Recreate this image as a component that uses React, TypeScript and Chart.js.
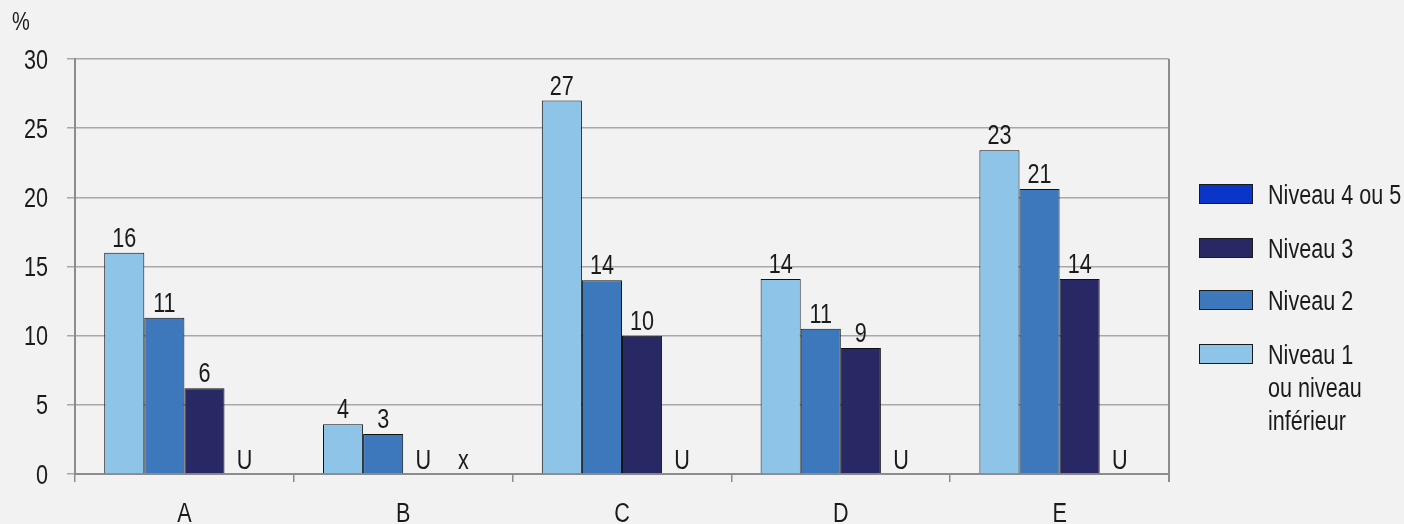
import React, { useEffect, useRef } from "react";
import { Chart, registerables } from "chart.js";

Chart.register(...registerables);

const categories = ["A", "B", "C", "D", "E"];
const niveau1 = [16, 3.6, 27, 14.1, 23.4];
const niveau2 = [11.3, 2.9, 14, 10.5, 20.6];
const niveau3 = [6.2, null, 10, 9.1, 14.1];
const niveau45 = [null, null, null, null, null];
const niveau3Notes = ["", "U", "", "", ""];
const niveau45Notes = ["U", "x", "U", "U", "U"];
const yTicks = [0, 5, 10, 15, 20, 25, 30];

const FONT = '"Liberation Sans", Arial, sans-serif';
const TEXT = "#1a1a1a";
const SX = 0.8;
const FS = 27;

const seriesNames = ["Niveau 1 ou niveau inférieur", "Niveau 2", "Niveau 3", "Niveau 4 ou 5"];
const seriesColors = ["#8DC4E8", "#3D78BC", "#282864", "#0A35C8"];
const legendLines = [["Niveau 4 ou 5"], ["Niveau 3"], ["Niveau 2"], ["Niveau 1", "ou niveau", "inférieur"]];
const legendColors = ["#0A35C8", "#282864", "#3D78BC", "#8DC4E8"];

function narrowText(ctx: CanvasRenderingContext2D, text: string, x: number, y: number, align: CanvasTextAlign, size = FS) {
  ctx.save();
  ctx.translate(x, y);
  ctx.scale(SX, 1);
  ctx.font = `${size}px ${FONT}`;
  ctx.fillStyle = TEXT;
  ctx.textAlign = align;
  ctx.textBaseline = "alphabetic";
  ctx.fillText(text, 0, 0);
  ctx.restore();
}

const labelsPlugin = {
  id: "customLabels",
  afterDatasetsDraw(chart: any) {
    const ctx = chart.ctx;
    const notes = [null, null, niveau3Notes, niveau45Notes];
    const y0 = chart.scales.y.getPixelForValue(0);
    chart.data.datasets.forEach((ds: any, di: number) => {
      const meta = chart.getDatasetMeta(di);
      meta.data.forEach((bar: any, i: number) => {
        const v = ds.data[i];
        if (v !== null && v !== undefined) {
          narrowText(ctx, String(Math.round(v)), bar.x, bar.y - 6, "center");
        } else {
          const n = notes[di] ? (notes[di] as string[])[i] : "";
          if (n) narrowText(ctx, n, bar.x, y0 - 5, "center");
        }
      });
    });
  },
  afterDraw(chart: any) {
    const ctx = chart.ctx;
    const a = chart.chartArea;
    ctx.save();
    ctx.strokeStyle = "#8C8C8C";
    ctx.lineWidth = 2;
    ctx.beginPath();
    ctx.moveTo(a.right, a.top);
    ctx.lineTo(a.right, a.bottom + 8);
    ctx.stroke();
    ctx.restore();

    const ys = chart.scales.y;
    yTicks.forEach((v) => {
      narrowText(ctx, String(v), 48, ys.getPixelForValue(v) + 9.5, "right");
    });
    const xs = chart.scales.x;
    categories.forEach((c, i) => {
      narrowText(ctx, c, xs.getPixelForValue(i), 521.5, "center");
    });
    narrowText(ctx, "%", 12, 30, "left", 25);
    const centers = [194, 248, 300, 354];
    legendLines.forEach((lines, k) => {
      const cy = centers[k];
      ctx.save();
      ctx.fillStyle = legendColors[k];
      ctx.fillRect(1199, cy - 10, 54, 20);
      ctx.strokeStyle = "#1a1a1a";
      ctx.lineWidth = 1;
      ctx.strokeRect(1199.5, cy - 9.5, 53, 19);
      ctx.restore();
      lines.forEach((t, j) => {
        narrowText(ctx, t, 1268, cy + 9.5 + j * 33, "left");
      });
    });
  },
};

export default function App() {
  const ref = useRef<HTMLCanvasElement>(null);
  useEffect(() => {
    if (!ref.current) return;
    const values = [niveau1, niveau2, niveau3, niveau45];
    const chart = new Chart(ref.current, {
      type: "bar",
      data: {
        labels: categories,
        datasets: values.map((d, i) => ({
          label: seriesNames[i],
          data: d as any,
          backgroundColor: seriesColors[i],
          borderColor: "#111111",
          borderWidth: 1,
          barPercentage: 1,
          categoryPercentage: 0.733,
        })),
      },
      options: {
        animation: false,
        responsive: true,
        maintainAspectRatio: false,
        layout: { padding: { top: 59, right: 235, left: 0, bottom: 0 } },
        plugins: { legend: { display: false }, tooltip: { enabled: false } },
        scales: {
          x: {
            afterFit: (s: any) => {
              s.height = 50;
            },
            grid: {
              offset: true,
              drawOnChartArea: false,
              drawTicks: true,
              tickLength: 8,
              color: "#8C8C8C",
              lineWidth: 1.5,
            },
            border: { color: "#8C8C8C", width: 2 },
            ticks: { display: false },
          },
          y: {
            min: 0,
            max: 30,
            afterFit: (s: any) => {
              s.width = 75;
            },
            afterBuildTicks: (s: any) => {
              s.ticks = yTicks.map((v) => ({ value: v }));
            },
            grid: { color: "#A8A8A8", lineWidth: 1.5, tickLength: 8 },
            border: { color: "#8C8C8C", width: 2 },
            ticks: { display: false },
          },
        },
      },
      plugins: [labelsPlugin],
    });
    return () => chart.destroy();
  }, []);
  return (
    <div style={{ position: "fixed", left: 0, top: 0, width: 1404, height: 524, background: "#F2F2F2" }}>
      <canvas ref={ref} />
    </div>
  );
}
